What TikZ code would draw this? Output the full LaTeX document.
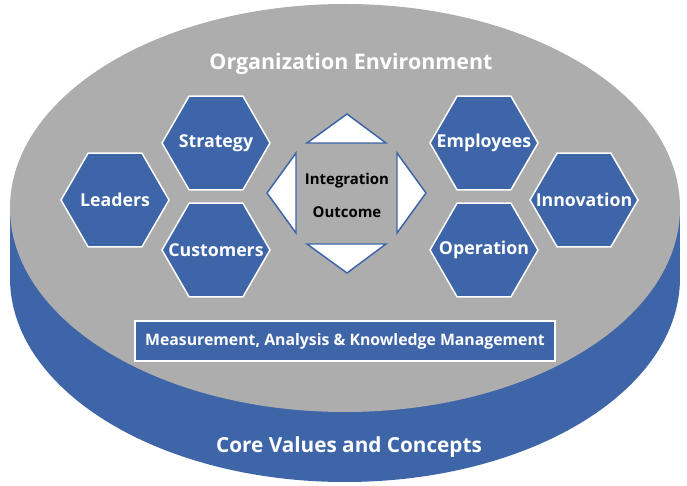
\documentclass[tikz,border=0pt]{standalone}
\usepackage{fontspec}
\setmainfont{Open Sans}
\usepackage{tikz}
\usetikzlibrary{positioning, shapes}
\definecolor{discblue}{HTML}{3F65A9}
\definecolor{discgray}{HTML}{ADADAD}
\tikzstyle{hexbox} = [regular polygon, regular polygon sides=6, draw=white,
    line width=0.85pt, fill=discblue, minimum size=2.16cm, inner sep=0pt]
\tikzstyle{hexlabel} = [text=white, font=\bfseries\fontsize{10.1}{12}\selectfont]
\tikzstyle{arrowtri} = [draw=discblue, line width=0.85pt, fill=white, line join=miter]
\tikzstyle{title} = [text=white, font=\bfseries\fontsize{12.2}{14}\selectfont]

\begin{document}
\begin{tikzpicture}[x=0.02cm, y=-0.02cm, every label/.style={hexlabel}]
      \useasboundingbox (0,0) rectangle (687,486);
      % Disc
      \fill [discblue] (345,278) ellipse [x radius=335, y radius=204];
      \fill [discblue] (10,208) rectangle (680,278);
      \fill [discgray] (345,208) ellipse [x radius=335, y radius=204];

      % Place nodes
      \node [title] (env) at (351,64) {Organization Environment};
      \node [title, font=\bfseries\fontsize{11.8}{14}\selectfont] (core) at (349,447) {Core Values and Concepts};

      \node [hexbox, label={center:Leaders}] (leaders) at (115,200) {};
      \node [hexbox, label={center:Strategy}] (strategy) at (216,143) {};
      \node [hexbox, label={center:Customers}] (customers) at (216,250) {};
      \node [hexbox, label={center:Employees}] (employees) at (484,143) {};
      \node [hexbox, label={center:Operation}] (operation) at (484,250) {};
      \node [hexbox, label={center:Innovation}] (innovation) at (584,200) {};

      % Centre arrows
      \draw [arrowtri] (347,114) -- (386,143) -- (307,143) -- cycle;
      \draw [arrowtri] (347,273) -- (307,244) -- (386,244) -- cycle;
      \draw [arrowtri] (267,193) -- (296,153) -- (296,233) -- cycle;
      \draw [arrowtri] (426,193) -- (397,233) -- (397,153) -- cycle;
      \node [font=\bfseries\fontsize{8.5}{10}\selectfont] (integ) at (347,181) {Integration};
      \node [font=\bfseries\fontsize{8.5}{10}\selectfont] (outcome) at (347,212) {Outcome};

      \node [draw=white, line width=0.85pt, fill=discblue, minimum width=8.4cm, minimum height=0.8cm,
          text=white, font=\bfseries\fontsize{9}{11}\selectfont] (measure) at (345,341)
          {Measurement, Analysis \& Knowledge Management};
    \end{tikzpicture}
\end{document}
